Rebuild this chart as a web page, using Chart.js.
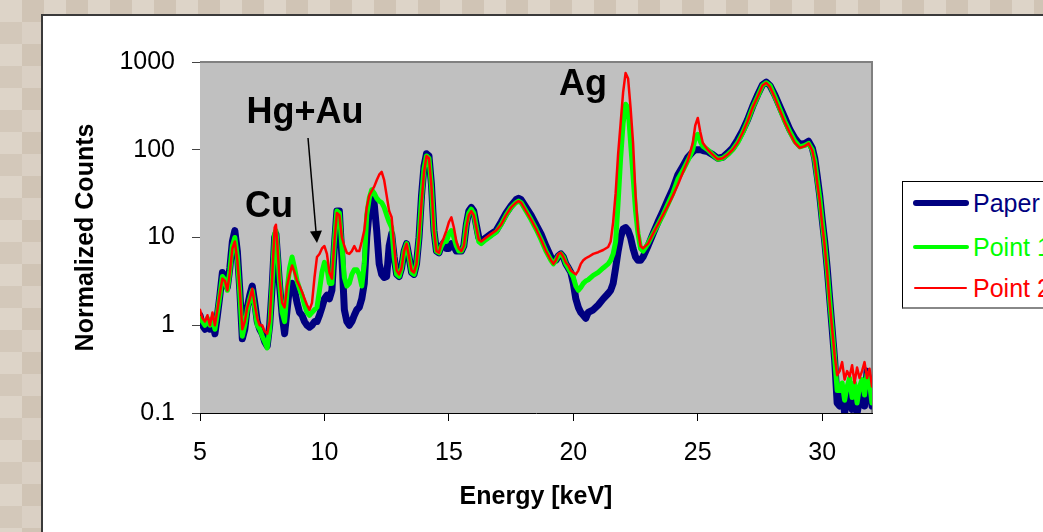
<!DOCTYPE html>
<html><head><meta charset="utf-8">
<script src="https://cdn.jsdelivr.net/npm/chart.js@4.4.1/dist/chart.umd.min.js"></script>
<style>
html,body{margin:0;padding:0;width:1043px;height:532px;overflow:hidden;}
body{position:relative;background-color:#d6ccbf;
 background-image:conic-gradient(#d0c4b5 25%, #dad0c4 0 50%, #d3c8ba 0 75%, #ddd4c8 0);
 background-size:44px 44px;}
#panel{position:absolute;left:41px;top:14px;width:1100px;height:600px;background:#fff;border-left:2px solid #3a3a3a;border-top:2px solid #3a3a3a;}
#c{position:absolute;left:0;top:0;}
#legend{position:absolute;left:902px;top:181px;width:200px;height:125px;background:#fff;border:1px solid #000;border-bottom:2px solid #888;font-family:"Liberation Sans",Arial,sans-serif;font-size:25px;}
.it{position:absolute;left:0;height:30px;width:200px;}
.ln{position:absolute;left:10px;width:56px;border-radius:4px;}
.tx{position:absolute;left:70px;top:0;line-height:30px;white-space:nowrap;}
</style></head>
<body>
<div id="panel"></div>
<canvas id="c" width="1043" height="532"></canvas>
<div id="legend">
 <div class="it" style="top:6px"><div class="ln" style="top:12px;height:6px;background:#000080"></div><span class="tx" style="color:#000080">Paper</span></div>
 <div class="it" style="top:50px"><div class="ln" style="top:13px;height:4px;background:#00ff00"></div><span class="tx" style="color:#00ff00">Point 1</span></div>
 <div class="it" style="top:91px"><div class="ln" style="top:14px;height:2px;background:#ff0000;left:11px;width:53px"></div><span class="tx" style="color:#ff0000">Point 2</span></div>
</div>
<script>
const energy = [5.0,5.1,5.2,5.3,5.4,5.5,5.6,5.7,5.8,5.9,
 6.0,6.1,6.2,6.3,6.4,6.5,6.6,6.7,6.8,6.9,
 7.0,7.1,7.2,7.3,7.4,7.5,7.6,7.7,7.8,7.9,
 8.0,8.05,8.1,8.2,8.3,8.4,8.5,8.6,8.7,8.8,
 8.9,9.0,9.1,9.2,9.3,9.4,9.5,9.6,9.7,9.8,
 9.9,10.0,10.1,10.2,10.3,10.4,10.5,10.6,10.7,10.8,
 10.9,11.0,11.1,11.2,11.3,11.4,11.5,11.6,11.7,11.8,
 11.9,12.0,12.1,12.2,12.3,12.4,12.5,12.6,12.7,12.8,
 12.9,13.0,13.1,13.2,13.3,13.4,13.5,13.6,13.7,13.8,
 13.9,14.0,14.1,14.2,14.3,14.4,14.5,14.6,14.7,14.8,
 14.9,15.0,15.1,15.2,15.3,15.4,15.5,15.6,15.7,15.8,
 15.9,16.0,16.1,16.2,16.3,16.5,16.7,16.9,17.1,17.3,
 17.5,17.7,17.8,17.9,18.1,18.3,18.5,18.7,18.9,19.1,
 19.2,19.3,19.4,19.5,19.6,19.7,19.8,19.9,20.0,20.1,
 20.2,20.3,20.4,20.5,20.6,20.8,21.0,21.2,21.4,21.5,
 21.6,21.7,21.8,21.9,22.0,22.1,22.2,22.3,22.4,22.5,
 22.6,22.7,22.8,23.0,23.2,23.4,23.6,23.8,24.0,24.2,
 24.4,24.6,24.8,24.9,25.0,25.1,25.2,25.4,25.6,25.8,
 26.0,26.2,26.4,26.6,26.8,27.0,27.2,27.4,27.6,27.75,
 27.9,28.1,28.3,28.5,28.7,28.9,29.1,29.3,29.45,29.6,
 29.7,29.8,29.9,30.0,30.1,30.2,30.3,30.4,30.5,30.6,
 30.7,30.8,30.9,31.0,31.1,31.2,31.3,31.4,31.5,31.6,
 31.7,31.8,31.9,32.0];

const paper = [1.3,1.0,0.9,1.1,0.9,1.1,0.8,1.3,2.2,4.0,
 3.5,2.7,4.5,9.0,12,7,2.5,0.7,0.9,1.6,
 2.2,2.8,1.8,1.1,0.9,0.8,0.65,0.58,1.0,2.8,
 10,11,7,2.8,1.3,0.8,1.5,2.8,3.0,2.5,
 1.8,1.4,1.3,1.1,1.0,0.95,1.0,1.1,1.1,1.3,
 1.6,2.0,2.2,2.0,2.5,8,20,20,6,1.5,
 1.1,1.0,1.1,1.3,1.5,1.6,2.0,3.0,10,20,
 30,24,12,5,3.8,3.5,3.6,8,11,6,
 3.8,3.6,4.5,7,8.5,6,4,3.8,5,10,
 30,65,90,85,40,12,7,6.7,8,8.8,
 7.5,7.5,8.5,8,7,7,7,8,14,20,
 22,20,14,10,9,10,11,12,15,19,
 23,27,28,27,22,18,14,11,8,6,
 5.5,5.5,6.2,6.5,6,5,4.5,4,3,2,
 1.6,1.4,1.3,1.2,1.4,1.5,1.7,2,2.3,2.5,
 3,4.5,7,10,12.5,13,12,10,7.5,6,
 5.5,5.5,6,8,11,15,20,27,36,52,
 65,82,95,100,100,100,98,95,88,80,
 82,92,105,130,165,220,310,420,550,590,
 540,420,310,230,170,135,115,118,125,105,
 80,50,30,16,9,4.5,2,0.9,0.4,0.13,
 0.12,0.18,0.1,0.15,0.2,0.11,0.17,0.1,0.14,0.19,
 0.12,0.3,0.2,0.12];

const point1 = [1.2,1.1,1.0,1.2,1.0,1.2,0.9,1.4,2.2,3.6,
 3.3,2.5,4.2,8,10,6,2.3,0.75,1.0,1.5,
 2.0,2.5,1.6,1.0,0.9,0.75,0.65,0.55,0.9,3.0,
 11,12,8,3.0,1.4,1.1,2.5,4.5,6.0,4.5,
 3.2,2.6,2.2,1.7,1.4,1.3,1.4,1.5,1.6,2.5,
 4.0,5.2,4.5,3.0,3.0,9,20,19,8,3.5,
 2.8,3.0,3.8,4.3,4.3,3.8,2.8,5,18,28,
 35,32,28,26,25,22,18,15,13,6,
 3.8,3.6,4.5,7,8.5,6,4,3.8,5,10,
 28,60,85,80,38,12,7,6.7,8,9,
 9,11,12,10,8,7,7,8,14,19,
 21,19,13,9,8.5,9.5,10.5,11.5,14,18,
 22,25,26,25,20,16,12.5,9.5,7,5.5,
 5,5.5,6.2,6.5,6,5,4.5,4,3.5,2.8,
 2.5,2.7,3,3.2,3.3,3.7,4,4.5,5,5.5,
 6.5,9,25,80,200,330,300,120,50,20,
 11,7.5,7,8.5,11,14,18,24,32,46,
 58,75,100,140,150,125,110,100,88,78,
 80,88,100,120,155,210,300,400,540,580,
 540,400,290,210,160,125,108,112,118,100,
 75,45,28,15,8.5,4.3,1.9,0.9,0.42,0.18,
 0.18,0.22,0.14,0.2,0.25,0.15,0.22,0.13,0.2,0.24,
 0.16,0.28,0.22,0.13];

const point2 = [1.5,1.2,1.1,1.3,1.0,1.4,1.0,1.5,2.3,3.4,
 3.2,2.5,4.0,7.5,9,5.5,2.5,0.9,1.1,1.6,
 2.0,2.6,1.7,1.2,1.0,1.0,0.85,0.8,1.1,3.5,
 13,14,9,3.2,1.8,1.6,2.8,3.8,4.8,4.0,
 3.2,2.8,2.4,2.0,1.7,1.5,1.8,3.5,6.0,6.5,
 7.5,8.0,6.5,4.0,3.4,9,19,18,10,8,
 6.7,6.5,7.0,8.0,7.0,7.0,9.0,12,22,30,
 34,38,45,52,56,45,30,20,17,8,
 4.2,3.8,4.5,7,8.5,6,4.2,4,5,10,
 25,55,85,80,38,12,7,6.7,8.5,10,
 12,15,17,13,9,7.5,7,8,13,18,
 20,18,13,9.5,9,10,11,12,14,18,
 22,25,26,25,20,16,12.5,9.5,7,5.5,
 5,5.5,6.5,6.7,6,5.2,4.8,4.2,4,3.8,
 4.2,5,5.5,5.8,6,6.5,6.8,7.2,7.8,9,
 15,32,90,200,450,750,650,300,120,30,
 12,8,7.5,8.5,11,14,18,23,30,40,
 55,75,120,190,230,160,120,100,88,78,
 80,88,100,120,155,210,300,400,540,580,
 520,390,280,205,155,120,105,110,118,98,
 72,42,26,14,8,4,1.8,0.9,0.45,0.27,
 0.3,0.38,0.24,0.3,0.26,0.35,0.22,0.33,0.25,0.3,
 0.38,0.25,0.32,0.2];

const seriesNames = ['Paper', 'Point 1', 'Point 2'];
const xTicks = [5, 10, 15, 20, 25, 30];
const yTicks = [0.1, 1, 10, 100, 1000];

const annotationTexts = ['Cu', 'Hg+Au', 'Ag'];
const annotationX = [7.77, 9.22, 20.39];
const annotationY = [17.1, 202, 421];
const arrowFrom = [9.34, 136];
const arrowTo = [9.70, 8.65];

const FONT = '"Liberation Sans", Arial, sans-serif';
const toXY = (vals) => energy.map((e, i) => ({x: e, y: vals[i]}));

const plotBg = {
  id: 'plotBg',
  beforeDatasetsDraw(chart) {
    const {ctx, chartArea: a} = chart;
    ctx.save();
    ctx.fillStyle = '#c0c0c0';
    ctx.fillRect(a.left, a.top, a.right - a.left, a.bottom - a.top);
    ctx.strokeStyle = '#808080';
    ctx.lineWidth = 2;
    ctx.beginPath();
    ctx.moveTo(a.left, a.top);
    ctx.lineTo(a.right, a.top);
    ctx.lineTo(a.right, a.bottom);
    ctx.stroke();
    ctx.restore();
  }
};

const annot = {
  id: 'annot',
  afterDatasetsDraw(chart) {
    const {ctx, scales: {x, y}} = chart;
    ctx.save();
    ctx.fillStyle = '#000';
    ctx.font = 'bold 36px ' + FONT;
    ctx.textAlign = 'center';
    ctx.textBaseline = 'alphabetic';
    annotationTexts.forEach((t, i) => {
      ctx.fillText(t, x.getPixelForValue(annotationX[i]), y.getPixelForValue(annotationY[i]));
    });
    const x1 = x.getPixelForValue(arrowFrom[0]), y1 = y.getPixelForValue(arrowFrom[1]);
    const x2 = x.getPixelForValue(arrowTo[0]), y2 = y.getPixelForValue(arrowTo[1]);
    const ang = Math.atan2(y2 - y1, x2 - x1);
    const hl = 12, hw = 6;
    const bx = x2 - hl * Math.cos(ang), by = y2 - hl * Math.sin(ang);
    ctx.strokeStyle = '#000';
    ctx.lineWidth = 1.5;
    ctx.beginPath();
    ctx.moveTo(x1, y1);
    ctx.lineTo(bx, by);
    ctx.stroke();
    ctx.beginPath();
    ctx.moveTo(x2, y2);
    ctx.lineTo(bx + hw * Math.sin(ang), by - hw * Math.cos(ang));
    ctx.lineTo(bx - hw * Math.sin(ang), by + hw * Math.cos(ang));
    ctx.closePath();
    ctx.fill();
    ctx.restore();
  }
};

new Chart(document.getElementById('c'), {
  type: 'line',
  data: {
    datasets: [
      {label: seriesNames[2], data: toXY(point2), borderColor: '#ff0000', borderWidth: 2.5, order: 0},
      {label: seriesNames[1], data: toXY(point1), borderColor: '#00ff00', borderWidth: 5, order: 1},
      {label: seriesNames[0], data: toXY(paper), borderColor: '#000080', borderWidth: 7, order: 2}
    ]
  },
  options: {
    responsive: false,
    animation: false,
    devicePixelRatio: 1,
    layout: {padding: {left: 70, top: 62, right: 171, bottom: 0}},
    elements: {
      point: {radius: 0},
      line: {tension: 0, borderJoinStyle: 'round', borderCapStyle: 'round', fill: false}
    },
    plugins: {legend: {display: false}, tooltip: {enabled: false}},
    scales: {
      x: {
        type: 'linear', min: 5, max: 32,
        afterBuildTicks: (s) => { s.ticks = xTicks.map(v => ({value: v})); },
        ticks: {color: '#000', font: {family: FONT, size: 25}, padding: 17, maxRotation: 0,
                callback: (v) => String(v)},
        grid: {drawOnChartArea: false, drawTicks: true, tickLength: 8, color: '#000'},
        border: {color: '#000', width: 1},
        title: {display: true, text: 'Energy [keV]', color: '#000',
                font: {family: FONT, size: 25, weight: 'bold'}, padding: {top: 0, bottom: 20}},
        afterFit: (s) => { s.height = 119; }
      },
      y: {
        type: 'logarithmic', min: 0.1, max: 1000,
        afterBuildTicks: (s) => { s.ticks = yTicks.map(v => ({value: v})); },
        ticks: {color: '#000', font: {family: FONT, size: 25}, padding: 17,
                callback: (v) => String(v)},
        grid: {drawOnChartArea: false, drawTicks: true, tickLength: 8, color: '#444'},
        border: {color: '#000', width: 1},
        title: {display: true, text: 'Normalized Counts', color: '#000',
                font: {family: FONT, size: 25, weight: 'bold'}, padding: {top: 1, bottom: 0}},
        afterFit: (s) => { s.width = 130; }
      }
    }
  },
  plugins: [plotBg, annot]
});
</script>
</body></html>
